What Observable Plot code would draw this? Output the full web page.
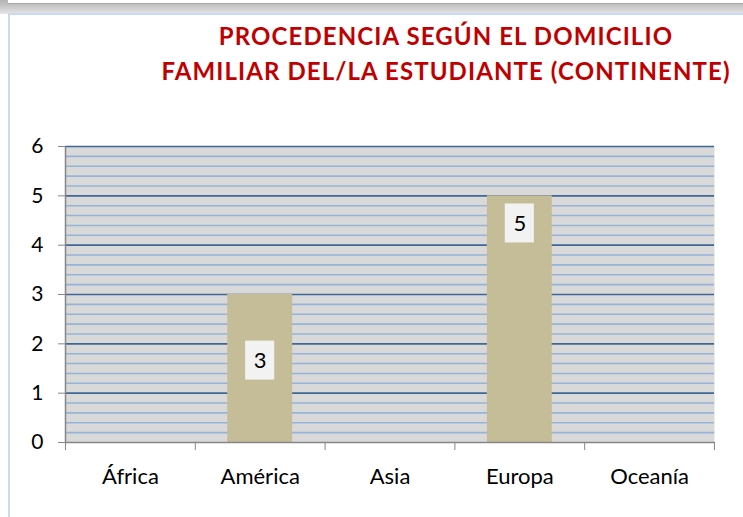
<!DOCTYPE html>
<html><head><meta charset="utf-8">
<script src="https://cdn.jsdelivr.net/npm/d3@7"></script>
<script src="https://cdn.jsdelivr.net/npm/@observablehq/plot@0.6"></script>
<style>
body{margin:0;background:#fff;}
#page{position:relative;width:743px;height:517px;overflow:hidden;background:#fff;}
#band{position:absolute;left:0;top:0;width:743px;height:14px;background:linear-gradient(#b4b4b4,#c4c4c4 40%,#e6e6e6);}
#topbox{position:absolute;left:7px;top:0;width:740px;height:3px;background:#fff;border-left:1px solid #bdbdbd;border-bottom:1px solid #a8a8a8;}
#frame{position:absolute;left:8px;top:13px;width:760px;height:520px;border-left:2px solid #c9dbf2;border-top:2px solid #c9dbf2;background:#fff;}
#title{position:absolute;left:150px;top:18px;width:592px;text-align:center;font-family:Lato,"Open Sans",sans-serif;font-weight:bold;font-size:24px;letter-spacing:1.1px;line-height:35px;color:#c00000;}
#chart{position:absolute;left:0;top:120px;}
</style></head>
<body>
<div id="page">
<div id="band"></div>
<div id="topbox"></div>
<div id="frame"></div>
<div id="title">PROCEDENCIA SEGÚN EL DOMICILIO<br>FAMILIAR DEL/LA ESTUDIANTE (CONTINENTE)</div>
<div id="chart"></div>
</div>
<script>
const categories = ["África", "América", "Asia", "Europa", "Oceanía"];
const values = [0, 3, 0, 5, 0];
const yTicks = [0, 1, 2, 3, 4, 5, 6];

const data = categories.map((c, i) => ({category: c, value: values[i], i}));
const labeled = data.filter(d => d.value > 0);
const labelY = v => v - (v >= 4 ? 0.56 : 1.34);

const minor = d3.range(0, 30).map(k => k / 5).filter(v => v % 1 !== 0);
const major = yTicks.filter(v => v > 0);

const chart = Plot.plot({
  width: 743,
  height: 397,
  marginLeft: 65,
  marginRight: 29,
  marginTop: 26,
  marginBottom: 75,
  style: {fontFamily: "Lato, 'Open Sans', sans-serif", background: "transparent", color: "black", overflow: "visible"},
  x: {type: "linear", domain: [0, categories.length], axis: null},
  y: {domain: [0, 6], axis: null},
  marks: [
    Plot.frame({fill: "#d9d9d9", stroke: null}),
    Plot.ruleY(minor, {stroke: "#95b3d7", strokeWidth: 1.6}),
    Plot.ruleY(major, {stroke: "#3e6797", strokeWidth: 1.6}),
    Plot.rectY(data, {x1: d => d.i + 0.25, x2: d => d.i + 0.75, y1: 0, y2: "value", fill: "#c4bd97"}),
    Plot.ruleX([0], {stroke: "#868686", strokeWidth: 1.5}),
    Plot.ruleY([0], {stroke: "#868686", strokeWidth: 1.5}),
    Plot.axisY({ticks: yTicks, label: null, tickSize: 7, tickPadding: 15, fontSize: 21, stroke: "#868686", tickFormat: d => String(d)}),
    Plot.axisX({ticks: d3.range(0, categories.length + 1), label: null, tickSize: 8, tickFormat: () => "", stroke: "#868686"}),
    Plot.text(data, {x: d => d.i + 0.5, y: 0, dy: 34, text: "category", fontSize: 22, fill: "black"}),
    Plot.rect(labeled, {x1: d => d.i + 0.388, x2: d => d.i + 0.612, y1: d => labelY(d.value) - 0.395, y2: d => labelY(d.value) + 0.395, fill: "#f2f2f2"}),
    Plot.text(labeled, {x: d => d.i + 0.5, y: d => labelY(d.value), text: d => String(d.value), fontSize: 22, fill: "black"})
  ]
});
document.getElementById("chart").append(chart);
</script>
</body></html>
